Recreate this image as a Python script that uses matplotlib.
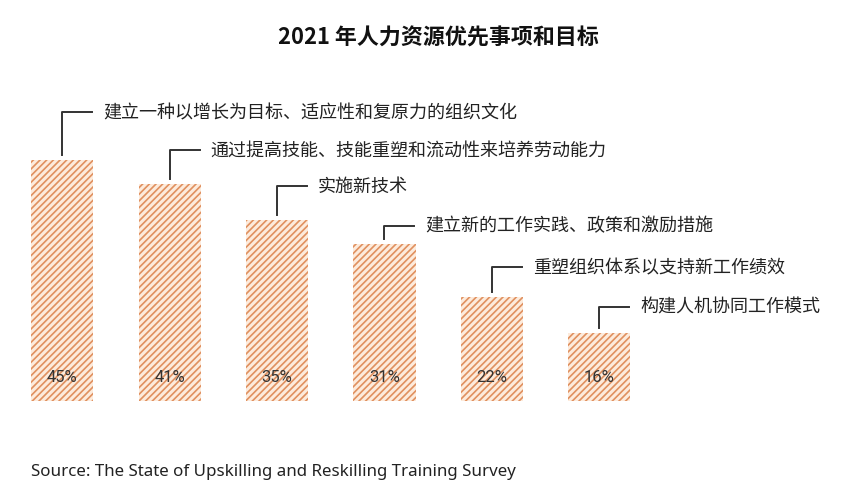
import matplotlib
matplotlib.use("Agg")
import matplotlib.pyplot as plt
from matplotlib.transforms import IdentityTransform

plt.rcParams['font.family'] = ['Noto Sans CJK SC', 'DejaVu Sans']
plt.rcParams['hatch.linewidth'] = 1.2
plt.rcParams['hatch.color'] = '#e0905f'

# data
categories = [
    '建立一种以增长为目标、适应性和复原力的组织文化',
    '通过提高技能、技能重塑和流动性来培养劳动能力',
    '实施新技术',
    '建立新的工作实践、政策和激励措施',
    '重塑组织体系以支持新工作绩效',
    '构建人机协同工作模式',
]
values = [45, 41, 35, 31, 22, 16]
title = '2021 年人力资源优先事项和目标'
source = 'Source: The State of Upskilling and Reskilling Training Survey'

# leader rise above each bar top (pixels)
rise = [48, 34, 34, 18, 30, 26]

fig = plt.figure(figsize=(8.51, 5.02), dpi=100)
ax = fig.add_axes([0, 0.1992, 1, 0.6215])
ax.set_xlim(-0.577, 7.34)
ax.set_ylim(4.5, 57)
ax.axis('off')

xs = list(range(len(values)))
ax.bar(xs, values, width=0.577, color='#fdebdc', edgecolor='#e0905f',
       hatch='/////', linewidth=0)

fig.canvas.draw()
for i, (x, v) in enumerate(zip(xs, values)):
    px, py = ax.transData.transform((x, v))
    bx, by = ax.transData.transform((x, 4.5))
    fig.text(px / 851, (by + 25) / 502, f'{v}%', ha='center', va='center',
             fontsize=12, color='#333333', family=['Roboto', 'DejaVu Sans'])
    y0 = py + 5
    y1 = py + rise[i]
    fig.add_artist(plt.Line2D([px, px, px + 30], [y0, y1, y1],
                              transform=IdentityTransform(),
                              color='#333333', lw=1.4))
    fig.text((px + 41) / 851, y1 / 502, categories[i], ha='left',
             va='center', fontsize=13, color='#222222')

fig.text(438 / 851, 1 - 38 / 502, title, ha='center', va='center',
         fontsize=15.8, fontweight='bold', color='#111111')
fig.text(31 / 851, 1 - 472 / 502, source, ha='left', va='center',
         fontsize=12.2, color='#222222', family=['Noto Sans', 'DejaVu Sans'])

fig.savefig('out.png', dpi=100)
